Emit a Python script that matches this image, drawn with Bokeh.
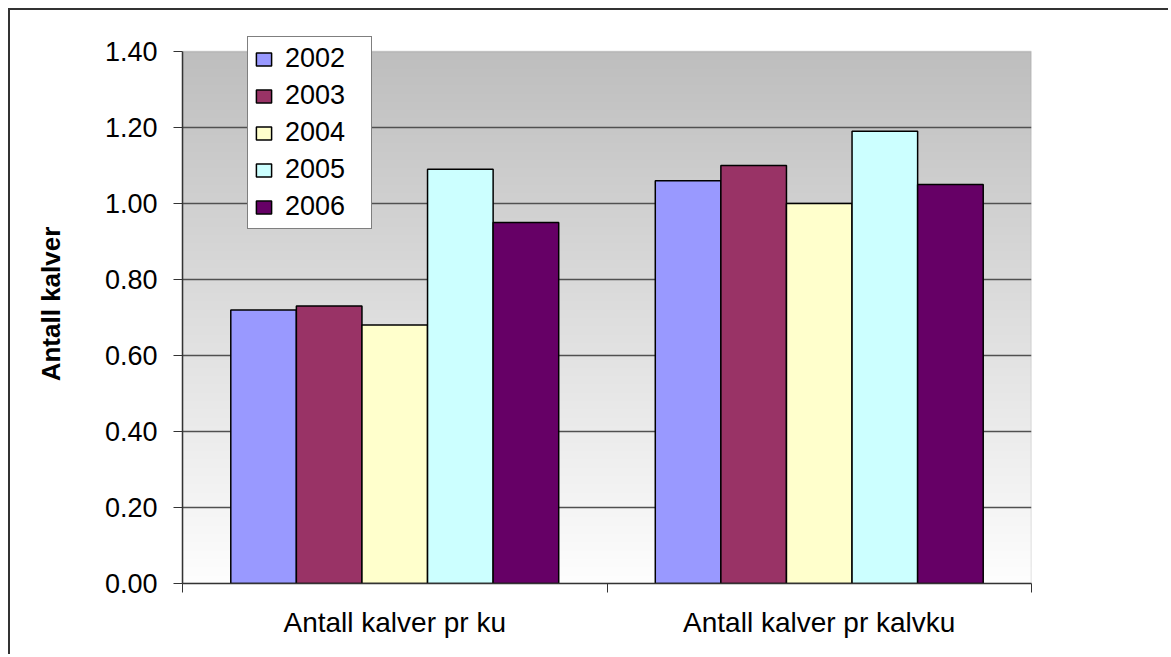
import numpy as np
from bokeh.plotting import figure
from bokeh.models import (ColumnDataSource, Range1d, FixedTicker, NumeralTickFormatter,
                          Legend, LegendItem, BoxAnnotation)
from bokeh.transform import dodge
from bokeh.embed import file_html
from bokeh.resources import INLINE

categories = ["Antall kalver pr ku", "Antall kalver pr kalvku"]
years = ["2002", "2003", "2004", "2005", "2006"]
v2002 = [0.72, 1.06]
v2003 = [0.73, 1.10]
v2004 = [0.68, 1.00]
v2005 = [1.09, 1.19]
v2006 = [0.95, 1.05]
series = [v2002, v2003, v2004, v2005, v2006]
colors = ["#9999FF", "#993366", "#FFFFCC", "#CCFFFF", "#660066"]
y_ticks = [0.0, 0.2, 0.4, 0.6, 0.8, 1.0, 1.2, 1.4]
y_max = 1.4

FONT = "Liberation Sans"

# frame: plot area 532px tall for 0..1.4, plus 27px headroom so the legend is not clipped
y_top = y_max * (559 / 532)

p = figure(width=1160, height=646, output_backend="svg", toolbar_location=None,
           x_range=Range1d(0, len(categories)), y_range=Range1d(0, y_top),
           min_border_left=172, min_border_right=139, min_border_top=14,
           min_border_bottom=73)
p.margin = (8, 0, 0, 8)
p.styles = {"border-left": "2px solid #333333", "border-top": "2px solid #333333"}
p.background_fill_color = "white"
p.border_fill_color = "white"
p.outline_line_color = None

# gradient background (gray at top -> white at bottom)
n = 256
t = np.linspace(0, 1, n)  # 0 bottom, 1 top
g = (254 - t * (254 - 190)).astype(np.uint32)
img = np.zeros((n, 1), dtype=np.uint32)
img[:, 0] = (255 << 24) | (g << 16) | (g << 8) | g
p.image_rgba(image=[img], x=0, y=0, dw=len(categories), dh=y_max, level="image")

# plot-area border
p.add_layout(BoxAnnotation(left=0, right=len(categories), bottom=0, top=y_max,
                           fill_alpha=0, line_color="#808080", line_width=1.5,
                           level="underlay"))

xc = [i + 0.5 for i in range(len(categories))]
bw = 0.1545
items = []
for k, (yr, vals, col) in enumerate(zip(years, series, colors)):
    src = ColumnDataSource(dict(x=xc, top=vals))
    r = p.vbar(x=dodge("x", (k - 2) * bw, range=p.x_range), top="top", width=bw,
               source=src, fill_color=col, line_color="black", line_width=1.5)
    items.append(LegendItem(label=yr, renderers=[r]))

# axes
p.xgrid.visible = False
p.ygrid.ticker = FixedTicker(ticks=y_ticks[:-1])
p.ygrid.grid_line_color = "#505050"
p.ygrid.grid_line_width = 1.3

ya = p.yaxis[0]
ya.ticker = FixedTicker(ticks=y_ticks)
ya.bounds = (0, y_max)
ya.formatter = NumeralTickFormatter(format="0.00")
ya.major_tick_out = 9
ya.major_tick_in = 0
ya.minor_tick_out = 0
ya.minor_tick_in = 0
ya.axis_line_color = "#333333"
ya.axis_line_width = 1.5
ya.major_tick_line_color = "#333333"
ya.major_label_text_font = FONT
ya.major_label_text_font_size = "27px"
ya.major_label_text_color = "black"
ya.major_label_standoff = 16
ya.axis_label = "Antall kalver"
ya.axis_label_text_font = FONT
ya.axis_label_text_font_size = "26px"
ya.axis_label_text_font_style = "bold"
ya.axis_label_text_color = "black"
ya.axis_label_standoff = 36

xa = p.xaxis[0]
xa.ticker = FixedTicker(ticks=xc, minor_ticks=list(range(len(categories) + 1)))
xa.major_label_overrides = {c: lab for c, lab in zip(xc, categories)}
xa.major_tick_out = 0
xa.major_tick_in = 0
xa.minor_tick_out = 9
xa.minor_tick_in = 0
xa.minor_tick_line_color = "#333333"
xa.axis_line_color = "#333333"
xa.axis_line_width = 1.5
xa.major_label_text_font = FONT
xa.major_label_text_font_size = "28px"
xa.major_label_text_color = "black"
xa.major_label_standoff = 14

legend = Legend(items=items, location=(65, 354))
legend.label_text_font = FONT
legend.label_text_font_size = "27px"
legend.label_text_color = "black"
legend.glyph_width = 19
legend.glyph_height = 16
legend.label_height = 30
legend.label_width = 80
legend.spacing = 6
legend.padding = 6
legend.label_standoff = 12
legend.border_line_color = "black"
legend.border_line_width = 1
legend.background_fill_color = "white"
legend.background_fill_alpha = 1.0
legend.margin = 0
p.add_layout(legend, "center")

open("out.html", "w").write(file_html(p, INLINE))
